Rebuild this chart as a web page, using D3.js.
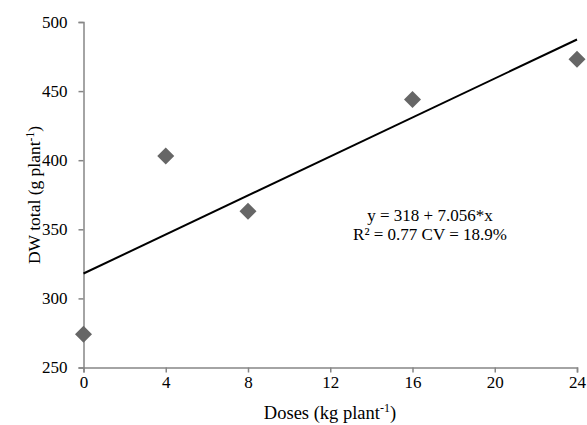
<!DOCTYPE html>
<html>
<head>
<meta charset="utf-8">
<script src="https://cdn.jsdelivr.net/npm/d3@7"></script>
<style>
  body { margin: 0; background: #fff; }
  text { font-family: "Liberation Serif", "Times New Roman", serif; }
</style>
</head>
<body>
<div id="viz"></div>
<script>
// data
const doses = [0, 4, 8, 16, 24];
const dwTotal = [274, 403, 363, 444, 473];
const xTicks = [0, 4, 8, 12, 16, 20, 24];
const yTicks = [250, 300, 350, 400, 450, 500];
const intercept = 318;
const slope = 7.056;

const width = 587;
const height = 425;
const axisColor = '#868686';
const pointColor = '#666666';

let svg = d3
  .select('#viz')
  .append('svg')
  .attr('width', width)
  .attr('height', height);

let x = d3.scaleLinear().domain([0, 24]).range([83.5, 577]);
let y = d3.scaleLinear().domain([250, 500]).range([367.5, 22]);

// y axis
let yAxis = svg
  .append('g')
  .attr('transform', 'translate(83.5,0)')
  .call(d3.axisLeft(y).tickValues(yTicks).tickSize(5).tickPadding(11));

// x axis
let xAxis = svg
  .append('g')
  .attr('transform', 'translate(0,367.5)')
  .call(d3.axisBottom(x).tickValues(xTicks).tickSize(5).tickPadding(3));

[xAxis, yAxis].forEach((g) => {
  g.attr('font-family', null).attr('font-size', null);
  g.select('.domain').attr('stroke', axisColor).attr('stroke-width', 1.5);
  g.selectAll('.tick line').attr('stroke', axisColor).attr('stroke-width', 1.5);
  g.selectAll('.tick text')
    .attr('fill', '#000')
    .style('font-size', '17px');
});

// trend line
svg
  .append('line')
  .attr('x1', x(0))
  .attr('y1', y(intercept))
  .attr('x2', x(24))
  .attr('y2', y(intercept + slope * 24))
  .attr('stroke', '#000')
  .attr('stroke-width', 2);

// points
svg
  .selectAll('path.pt')
  .data(doses)
  .enter()
  .append('path')
  .attr('class', 'pt')
  .attr('d', 'M0,-8.5L8.5,0L0,8.5L-8.5,0Z')
  .attr('transform', (d, i) => `translate(${x(d)},${y(dwTotal[i])})`)
  .attr('fill', pointColor);

// equation
let eq = svg
  .append('text')
  .attr('x', 430)
  .attr('y', 221)
  .attr('text-anchor', 'middle')
  .style('font-size', '17px');
eq.append('tspan').attr('x', 430).text('y = 318 + 7.056*x');
eq.append('tspan').attr('x', 430).attr('dy', 19).text('R² = 0.77 CV = 18.9%');

// axis titles
let xt = svg
  .append('text')
  .attr('x', 330)
  .attr('y', 419)
  .attr('text-anchor', 'middle')
  .style('font-size', '18.5px');
xt.append('tspan').text('Doses (kg plant');
xt.append('tspan').attr('dy', -7).style('font-size', '12px').text('-1');
xt.append('tspan').attr('dy', 7).text(')');

let yt = svg
  .append('text')
  .attr('transform', 'translate(40,195) rotate(-90)')
  .attr('text-anchor', 'middle')
  .style('font-size', '17.5px');
yt.append('tspan').text('DW total (g plant');
yt.append('tspan').attr('dy', -6).style('font-size', '11.5px').text('-1');
yt.append('tspan').attr('dy', 6).text(')');
</script>
</body>
</html>
